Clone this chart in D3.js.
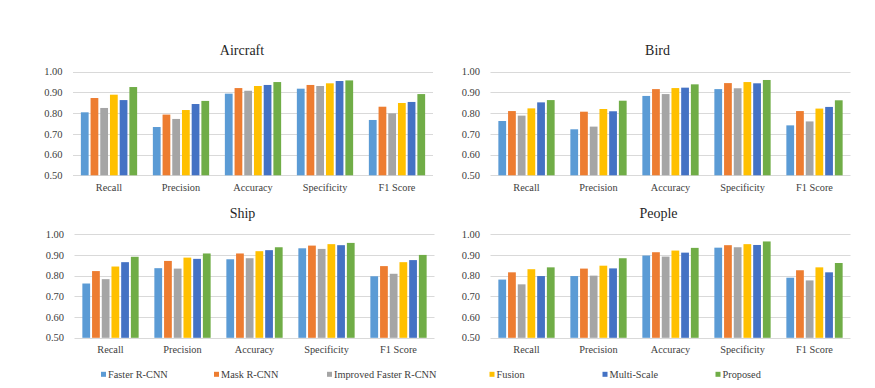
<!DOCTYPE html>
<meta charset="utf-8">
<style>
body { margin: 0; background: #fff; }
.grid line { stroke: #d9d9d9; stroke-width: 1; }
.tick-label { fill: #404040; font-size: 10.5px; }
.cat-label { fill: #404040; font-size: 10.3px; }
.title { fill: #262626; font-size: 14px; }
.legend text { fill: #404040; font-size: 10.3px; }
</style>
<body>
<script src="https://cdn.jsdelivr.net/npm/d3@7"></script>
<script>
var width = 875
var height = 388

var categories = ['Recall', 'Precision', 'Accuracy', 'Specificity', 'F1 Score']
var series = ['Faster R-CNN', 'Mask R-CNN', 'Improved Faster R-CNN', 'Fusion', 'Multi-Scale', 'Proposed']
var colors = ['#5b9bd5', '#ed7d31', '#a5a5a5', '#ffc000', '#4472c4', '#70ad47']
var yTicks = [0.5, 0.6, 0.7, 0.8, 0.9, 1.0]

// one row per method, one value per metric
var aircraft = [
    [0.804, 0.733, 0.894, 0.918, 0.767],
    [0.873, 0.793, 0.921, 0.936, 0.831],
    [0.825, 0.772, 0.908, 0.931, 0.799],
    [0.889, 0.815, 0.931, 0.944, 0.849],
    [0.863, 0.844, 0.936, 0.955, 0.854],
    [0.926, 0.859, 0.950, 0.958, 0.892]
]
var bird = [
    [0.762, 0.722, 0.883, 0.916, 0.741],
    [0.810, 0.807, 0.916, 0.945, 0.810],
    [0.788, 0.735, 0.892, 0.920, 0.760],
    [0.823, 0.820, 0.921, 0.950, 0.822],
    [0.852, 0.809, 0.923, 0.944, 0.830],
    [0.863, 0.860, 0.939, 0.960, 0.862]
]
var ship = [
    [0.762, 0.836, 0.879, 0.932, 0.797],
    [0.822, 0.871, 0.907, 0.945, 0.846],
    [0.783, 0.834, 0.884, 0.929, 0.809],
    [0.844, 0.887, 0.918, 0.952, 0.865],
    [0.865, 0.881, 0.923, 0.947, 0.875],
    [0.891, 0.907, 0.937, 0.958, 0.900]
]
var people = [
    [0.781, 0.798, 0.897, 0.935, 0.790],
    [0.816, 0.834, 0.913, 0.947, 0.826],
    [0.758, 0.800, 0.892, 0.937, 0.777],
    [0.831, 0.848, 0.921, 0.952, 0.840],
    [0.798, 0.835, 0.911, 0.948, 0.816],
    [0.840, 0.884, 0.934, 0.965, 0.861]
]

var panels = [
    { title: 'Aircraft', values: aircraft, x0: 73, x1: 433, y0: 71.7, y1: 175.3, tx: 242 },
    { title: 'Bird', values: bird, x0: 490.5, x1: 850.5, y0: 71.7, y1: 175.3, tx: 657.5 },
    { title: 'Ship', values: ship, x0: 74.5, x1: 434.5, y0: 234.2, y1: 337.8, tx: 242.5 },
    { title: 'People', values: people, x0: 490.5, x1: 850.5, y0: 234.2, y1: 337.8, tx: 658.5 }
]

// left edge of each legend entry (the long one gets more room)
var legendOffsets = [101, 214, 327, 489.5, 602.5, 715.5]

var svg = d3.select('body')
    .append('svg')
    .attr('width', width)
    .attr('height', height)
    .attr('font-family', "'Liberation Serif', 'DejaVu Serif', serif")

panels.forEach(drawPanel)

function drawPanel(p) {
    var g = svg.append('g')

    var y = d3.scaleLinear()
        .domain([0.5, 1.0])
        .range([p.y1, p.y0])

    var x = d3.scaleBand()
        .domain(categories)
        .range([p.x0, p.x1])

    var xs = d3.scaleBand()
        .domain(series)
        .range([0, x.bandwidth()])
        .paddingInner(0.2)
        .paddingOuter(0.81)

    g.append('g')
        .attr('class', 'grid')
        .selectAll('line')
        .data(yTicks)
        .enter().append('line')
        .attr('x1', p.x0)
        .attr('x2', p.x1)
        .attr('y1', function (d) { return Math.round(y(d)) + 0.5 })
        .attr('y2', function (d) { return Math.round(y(d)) + 0.5 })

    g.append('g')
        .selectAll('text')
        .data(yTicks)
        .enter().append('text')
        .attr('class', 'tick-label')
        .attr('x', p.x0 - 10.5)
        .attr('y', function (d) { return y(d) })
        .attr('dy', '0.35em')
        .attr('text-anchor', 'end')
        .text(function (d) { return d3.format('.2f')(d) })

    var bars = []
    p.values.forEach(function (row, si) {
        row.forEach(function (v, ci) {
            bars.push({ s: si, c: ci, v: v })
        })
    })

    g.append('g')
        .selectAll('rect')
        .data(bars)
        .enter().append('rect')
        .attr('x', function (d) { return x(categories[d.c]) + xs(series[d.s]) })
        .attr('width', xs.bandwidth())
        .attr('y', function (d) { return y(d.v) })
        .attr('height', function (d) { return y(0.5) - y(d.v) })
        .attr('fill', function (d) { return colors[d.s] })

    g.append('g')
        .selectAll('text')
        .data(categories)
        .enter().append('text')
        .attr('class', 'cat-label')
        .attr('x', function (d) { return x(d) + x.bandwidth() / 2 })
        .attr('y', p.y1 + 15.4)
        .attr('text-anchor', 'middle')
        .text(function (d) { return d })

    g.append('text')
        .attr('class', 'title')
        .attr('x', p.tx)
        .attr('y', p.y0 - 16.7)
        .attr('text-anchor', 'middle')
        .text(p.title)
}

// legend along the bottom
var legend = svg.append('g')
    .attr('class', 'legend')
    .selectAll('g')
    .data(series)
    .enter().append('g')
    .attr('transform', function (d, i) { return 'translate(' + legendOffsets[i] + ',374.3)' })

legend.append('rect')
    .attr('x', 0)
    .attr('y', -2.5)
    .attr('width', 5)
    .attr('height', 5)
    .attr('fill', function (d, i) { return colors[i] })

legend.append('text')
    .attr('x', 7)
    .attr('dy', '0.35em')
    .text(function (d) { return d })
</script>
</body>
